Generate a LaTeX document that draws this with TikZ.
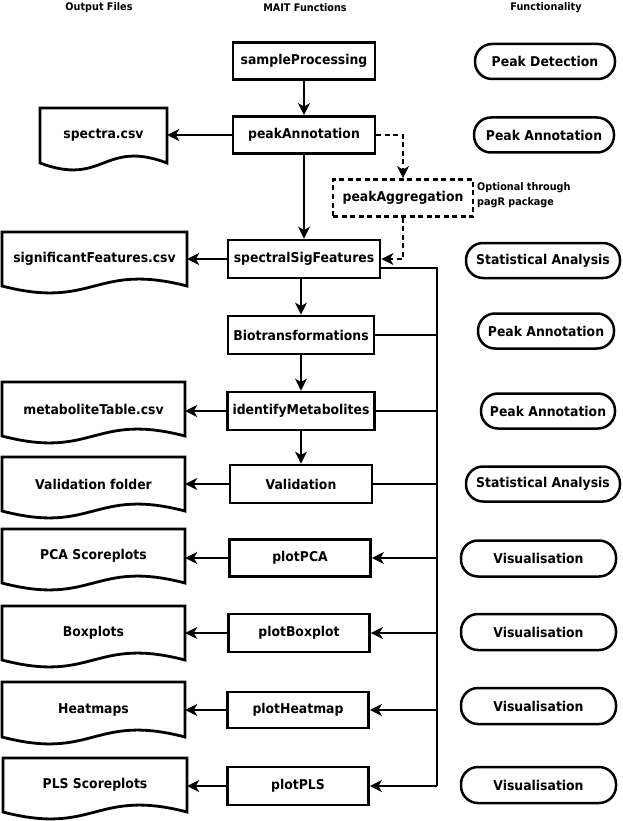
\documentclass[tikz,border=0pt]{standalone}
\usepackage{fontspec}
\setmainfont{DejaVu Sans}[FakeStretch=0.92]
\usetikzlibrary{arrows.meta}
\newcommand{\docdraw}[6]{%
  \node[minimum width={#3-#2}, minimum height={#5-#4}] (#1) at ({(#2+#3)/2},{(#4+#5)/2}) {#6};
  \draw[conn] (#2,#5) -- (#2,#4) -- (#3,#4) -- (#3,#5) .. controls ({(#2+#3)/2},{#5-24}) and ({(#2+#3)/2},{#5+24}) .. (#2,#5) -- cycle;
}
\begin{document}
\begin{tikzpicture}[x=1pt,y=-1pt,
  every node/.style={font=\fontsize{13.5}{15}\selectfont\bfseries, inner sep=0pt},
  fnbox/.style={draw, line width=2.8pt, rectangle},
  dashbox/.style={draw, line width=2.8pt, dash pattern=on 5pt off 3.5pt},
  stad/.style={draw, line width=2.5pt, rounded corners=17pt},
  hdr/.style={font=\fontsize{10.5}{12}\selectfont\bfseries},
  conn/.style={line width=2.8pt},
  arr/.style={conn, -{Stealth[length=12pt,width=12pt,inset=3.5pt]}},
  darr/.style={arr, dash pattern=on 5pt off 3.5pt},
]
\useasboundingbox (0,0) rectangle (623,821);

% headers
\node[hdr] (h1) at (99,8) {Output Files};
\node[hdr] (h2) at (305,8) {MAIT Functions};
\node[hdr] (h3) at (546,8) {Functionality};

% function boxes
\node[fnbox, minimum width=142pt, minimum height=37pt] (sp) at (304,61) {sampleProcessing};
\node[fnbox, minimum width=142pt, minimum height=37pt] (pa) at (304,135) {peakAnnotation};
\node[dashbox, minimum width=140pt, minimum height=37pt] (pag) at (403,198) {peakAggregation};
\node[fnbox, minimum width=152pt, minimum height=38pt] (ssf) at (304,259) {spectralSigFeatures};
\node[fnbox, minimum width=146pt, minimum height=38pt] (bio) at (301,335) {Biotransformations};
\node[fnbox, minimum width=147pt, minimum height=38pt] (idm) at (301,411) {identifyMetabolites};
\node[fnbox, minimum width=142pt, minimum height=38pt] (val) at (301,484) {Validation};
\node[fnbox, minimum width=141pt, minimum height=37pt] (pca) at (300,558) {plotPCA};
\node[fnbox, minimum width=141pt, minimum height=38pt] (pbx) at (299,633) {plotBoxplot};
\node[fnbox, minimum width=141pt, minimum height=36pt] (phm) at (298,710) {plotHeatmap};
\node[fnbox, minimum width=141pt, minimum height=38pt] (pls) at (298,786) {plotPLS};

\node[font=\fontsize{10.5}{15}\selectfont\bfseries, align=left, anchor=west] (note) at (477,195.5) {Optional through\\pagR package};

% functionality stadiums
\node[stad, minimum width=140pt, minimum height=35pt] (f1) at (545,61.5) {Peak Detection};
\node[stad, minimum width=140pt, minimum height=35pt] (f2) at (544,135) {Peak Annotation};
\node[stad, minimum width=154pt, minimum height=35pt] (f3) at (543,260.5) {Statistical Analysis};
\node[stad, minimum width=136pt, minimum height=35pt] (f4) at (546,331) {Peak Annotation};
\node[stad, minimum width=134pt, minimum height=35pt] (f5) at (548,411) {Peak Annotation};
\node[stad, minimum width=154pt, minimum height=35pt] (f6) at (543,484) {Statistical Analysis};
\node[stad, minimum width=155pt, minimum height=36pt] (f7) at (538.5,558.5) {Visualisation};
\node[stad, minimum width=155pt, minimum height=36pt] (f8) at (538.5,632) {Visualisation};
\node[stad, minimum width=155pt, minimum height=36pt] (f9) at (538.5,706) {Visualisation};
\node[stad, minimum width=155pt, minimum height=36pt] (f10) at (538.5,785) {Visualisation};

% output documents
\docdraw{d1}{40}{167}{108}{163}{spectra.csv}
\docdraw{d2}{2}{187}{232}{286}{significantFeatures.csv}
\docdraw{d3}{2}{185}{382}{436}{metaboliteTable.csv}
\docdraw{d4}{2}{185}{457}{511}{Validation folder}
\docdraw{d5}{2}{185}{529}{583}{PCA Scoreplots}
\docdraw{d6}{2}{185}{606}{660}{Boxplots}
\docdraw{d7}{2}{185}{682}{737}{Heatmaps}
\docdraw{d8}{3}{187}{758}{812}{PLS Scoreplots}

% bus coordinates
\coordinate (bustop) at (437,268);
\coordinate (busbot) at (437,786);

% main flow
\draw[arr] (sp.south) -- (pa.north);
\draw[arr] (pa.south) -- (ssf.north);
\draw[arr] (ssf.south -| bio.north) -- (bio.north);
\draw[arr] (bio.south) -- (idm.north);
\draw[arr] (idm.south) -- (val.north);

% optional path
\draw[darr] (pa.east) -| (pag.north);
\draw[darr] (pag.south) |- (ssf.east);

% bus
\draw[conn] ([yshift=-9pt]ssf.east) -| (busbot);
\draw[conn] (bio.east) -- (bio.east -| bustop);
\draw[conn] (idm.east) -- (idm.east -| bustop);
\draw[conn] (val.east) -- (val.east -| bustop);
\draw[arr] (pca.east -| bustop) -- (pca.east);
\draw[arr] (pbx.east -| bustop) -- (pbx.east);
\draw[arr] (phm.east -| bustop) -- (phm.east);
\draw[arr] (pls.east -| bustop) -- (pls.east);

% outputs
\draw[arr] (pa.west) -- (pa.west -| d1.east);
\draw[arr] (ssf.west) -- (ssf.west -| d2.east);
\draw[arr] (idm.west) -- (idm.west -| d3.east);
\draw[arr] (val.west) -- (val.west -| d4.east);
\draw[arr] (pca.west) -- (pca.west -| d5.east);
\draw[arr] (pbx.west) -- (pbx.west -| d6.east);
\draw[arr] (phm.west) -- (phm.west -| d7.east);
\draw[arr] (pls.west) -- (pls.west -| d8.east);
\end{tikzpicture}
\end{document}
